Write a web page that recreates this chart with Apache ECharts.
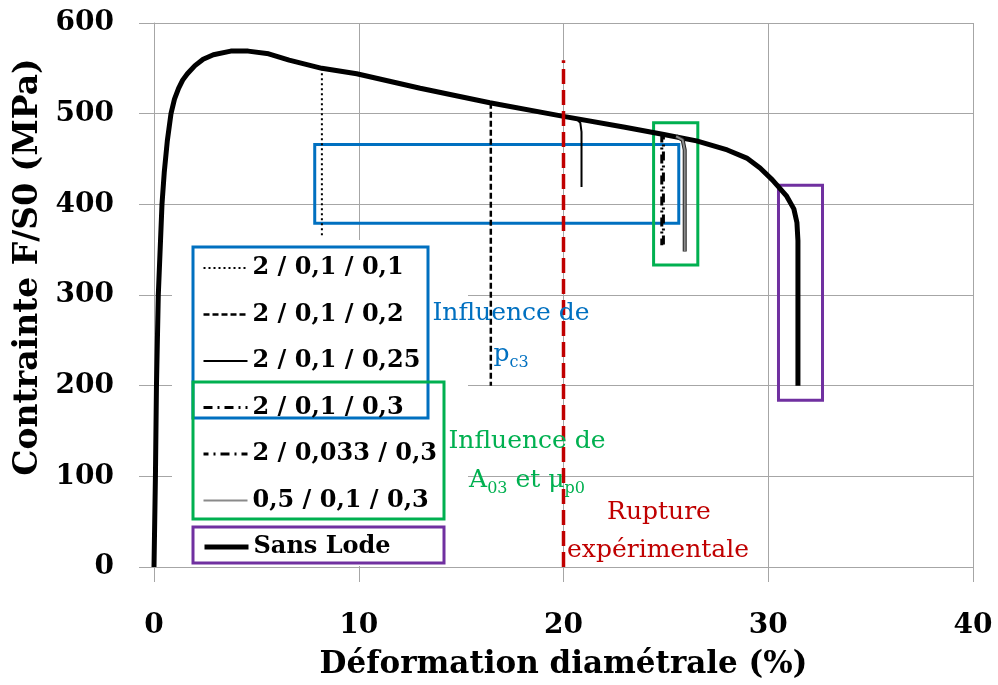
<!DOCTYPE html>
<html><head><meta charset="utf-8">
<script src="https://cdn.jsdelivr.net/npm/echarts@6/dist/echarts.min.js"></script>
<style>html,body{margin:0;padding:0;background:#fff}#c{width:998px;height:685px}</style>
</head><body><div id="c"></div>
<script>
// ---- Data ----
const seriesNames = ['2 / 0,1 / 0,1', '2 / 0,1 / 0,2', '2 / 0,1 / 0,25', '2 / 0,1 / 0,3', '2 / 0,033 / 0,3', '0,5 / 0,1 / 0,3', 'Sans Lode'];

// "Sans Lode" main curve: strain (%) and stress (MPa)
const mainStrain = [0, 0.07, 0.12, 0.21, 0.39, 0.5, 0.65, 0.83, 1.0, 1.2, 1.4, 1.63, 2.0, 2.4, 2.9, 3.75, 4.6, 5.6, 6.6, 8.2, 9.9, 13, 16.4, 20, 23, 24.9, 26.5, 28, 28.95, 29.6, 30.2, 30.9, 31.25, 31.4, 31.45, 31.45];
const mainStress = [0, 100, 200, 300, 400, 435, 470, 500, 516, 528, 537, 544, 553, 560, 565, 569, 569, 566, 559, 550, 544, 528, 512, 497, 485, 477, 470, 460, 451, 440, 427, 409, 395, 380, 360, 200];

// Drop-offs of the other simulations
const s1Strain = [8.2, 8.2];            const s1Stress = [550, 364];
const s2Strain = [16.45, 16.45];        const s2Stress = [512, 200];
const s3Strain = [20.6, 20.82, 20.88, 20.88]; const s3Stress = [495, 490, 480, 419];
const s4Strain = [24.8, 24.8];          const s4Stress = [478, 355];
const s5Strain = [24.88, 24.88];        const s5Stress = [477, 352];
const s6Strain = [25.5, 25.82, 25.92, 25.92]; const s6Stress = [475, 471, 460, 348];

// Experimental rupture
const ruptureStrain = [20, 20];  const ruptureStress = [0, 559];

// Highlight boxes [xmin, ymin, xmax, ymax] in data units
const boxPc3 = [7.85, 379, 25.63, 466];
const boxA03 = [24.4, 333, 26.56, 490];
const boxLode = [30.5, 184, 32.65, 421];

const xTicks = [0, 10, 20, 30, 40];
const yTicks = [0, 100, 200, 300, 400, 500, 600];

const zip = (a, b) => a.map((v, i) => [v, b[i]]);

const FONT = 'DejaVu Serif';
const GRIDC = '#a6a6a6';
const BLUE = '#0070c0', GREEN = '#00b050', PURPLE = '#7030a0', RED = '#c00000';
const ANN = 25;

const chart = echarts.init(document.getElementById('c'), null, {renderer: 'canvas'});

function lineSeries(name, data, style, z) {
  return {
    name: name, type: 'line', data: data, symbol: 'none', silent: true,
    lineStyle: style, itemStyle: {color: style.color}, z: z || 3,
    animation: false
  };
}

const mainSeries = lineSeries(seriesNames[6], zip(mainStrain, mainStress), {color: '#000', width: 5});
mainSeries.markArea = {
  silent: true,
  label: {show: false},
  itemStyle: {color: 'rgba(0,0,0,0)', borderWidth: 3},
  data: [
    [{xAxis: boxPc3[0], yAxis: boxPc3[1], itemStyle: {borderColor: BLUE, borderWidth: 3, color: 'rgba(0,0,0,0)'}}, {xAxis: boxPc3[2], yAxis: boxPc3[3]}],
    [{xAxis: boxA03[0], yAxis: boxA03[1], itemStyle: {borderColor: GREEN, borderWidth: 3, color: 'rgba(0,0,0,0)'}}, {xAxis: boxA03[2], yAxis: boxA03[3]}],
    [{xAxis: boxLode[0], yAxis: boxLode[1], itemStyle: {borderColor: PURPLE, borderWidth: 3, color: 'rgba(0,0,0,0)'}}, {xAxis: boxLode[2], yAxis: boxLode[3]}]
  ]
};

function richText(x, y, text, color) {
  return {type: 'text', z: 30, silent: true, x: x, y: y, style: {text: text, fill: color, align: 'center', verticalAlign: 'middle',
    rich: {m: {fontFamily: FONT, fontSize: ANN, fill: color, lineHeight: 34, verticalAlign: 'middle'},
           s: {fontFamily: FONT, fontSize: 16, fill: color, lineHeight: 16, verticalAlign: 'bottom'}}}};
}
function plainText(x, y, text, color) {
  return {type: 'text', z: 30, silent: true, x: x, y: y, style: {text: text, fill: color, font: ANN + 'px "DejaVu Serif"', align: 'center', verticalAlign: 'middle'}};
}

const legendText = {fontFamily: FONT, fontWeight: 'bold', fontSize: 24, color: '#000'};

const option = {
  backgroundColor: '#fff',
  animation: false,
  grid: {left: 154, right: 25, top: 23, bottom: 116, containLabel: false},
  xAxis: {
    type: 'value', min: xTicks[0], max: xTicks[xTicks.length - 1], interval: 10,
    axisLine: {show: true, lineStyle: {color: GRIDC, width: 1}},
    axisTick: {show: true, length: 15, lineStyle: {color: GRIDC}},
    splitLine: {show: true, lineStyle: {color: GRIDC, width: 1}},
    axisLabel: {fontFamily: FONT, fontWeight: 'bold', fontSize: 28, color: '#000', margin: 45},
    name: 'Déformation diamétrale (%)', nameLocation: 'middle', nameGap: 82,
    nameTextStyle: {fontFamily: FONT, fontWeight: 'bold', fontSize: 31, color: '#000'}
  },
  yAxis: {
    type: 'value', min: yTicks[0], max: yTicks[yTicks.length - 1], interval: 100,
    axisLine: {show: true, lineStyle: {color: GRIDC, width: 1}},
    axisTick: {show: true, length: 15, lineStyle: {color: GRIDC}},
    splitLine: {show: true, lineStyle: {color: GRIDC, width: 1}},
    axisLabel: {fontFamily: FONT, fontWeight: 'bold', fontSize: 28, color: '#000', margin: 40},
    name: 'Contrainte F/S0 (MPa)', nameLocation: 'middle', nameGap: 104,
    nameTextStyle: {fontFamily: FONT, fontWeight: 'bold', fontSize: 33, color: '#000', padding: [0, 0, 0, 56]}
  },
  legend: [
    {
      data: seriesNames.slice(0, 6), orient: 'vertical', left: 197, top: 251,
      itemWidth: 44, itemHeight: 14, itemGap: 22.5, selectedMode: false, z: 20,
      itemStyle: {opacity: 0},
      lineStyle: {width: 'inherit'},
      textStyle: legendText
    },
    {
      data: [seriesNames[6]], orient: 'vertical', left: 197, top: 530,
      itemWidth: 44, itemHeight: 14, selectedMode: false, z: 20,
      itemStyle: {opacity: 0},
      lineStyle: {width: 'inherit'},
      textStyle: legendText
    }
  ],
  graphic: [
    {type: 'rect', z: 1, silent: true, shape: {x: 172, y: 240, width: 296, height: 326}, style: {fill: '#fff'}},
    {type: 'rect', z: 15, silent: true, shape: {x: 193, y: 247, width: 235, height: 171}, style: {fill: null, stroke: BLUE, lineWidth: 3}},
    {type: 'rect', z: 15, silent: true, shape: {x: 193, y: 382, width: 251, height: 137}, style: {fill: null, stroke: GREEN, lineWidth: 3}},
    {type: 'rect', z: 15, silent: true, shape: {x: 193, y: 527, width: 251, height: 36}, style: {fill: null, stroke: PURPLE, lineWidth: 3}},
    plainText(511, 313, 'Influence de', BLUE),
    richText(511, 354, '{m|p}{s|c3}', BLUE),
    plainText(527, 441, 'Influence de', GREEN),
    richText(527, 480, '{m|A}{s|03}{m| et μ}{s|p0}', GREEN),
    plainText(659, 512, 'Rupture', RED),
    plainText(658, 550, 'expérimentale', RED)
  ],
  series: [
    mainSeries,
    lineSeries(seriesNames[0], zip(s1Strain, s1Stress), {color: '#000', width: 2, type: [2, 3]}),
    lineSeries(seriesNames[1], zip(s2Strain, s2Stress), {color: '#000', width: 2.5, type: [6, 3]}),
    lineSeries(seriesNames[2], zip(s3Strain, s3Stress), {color: '#000', width: 2}),
    lineSeries(seriesNames[3], zip(s4Strain, s4Stress), {color: '#000', width: 3, type: [9, 5, 2, 5]}),
    lineSeries(seriesNames[4], zip(s5Strain, s5Stress), {color: '#000', width: 3, type: [9, 5, 2, 5], dashOffset: 4}),
    lineSeries('outline', zip(s6Strain, s6Stress), {color: '#222', width: 4}),
    lineSeries(seriesNames[5], zip(s6Strain, s6Stress), {color: '#8a8a8a', width: 2}),
    lineSeries('Rupture expérimentale', zip(ruptureStrain, ruptureStress), {color: RED, width: 3.5, type: [15, 6]}, 4)
  ]
};
chart.setOption(option);
</script>
</body></html>
